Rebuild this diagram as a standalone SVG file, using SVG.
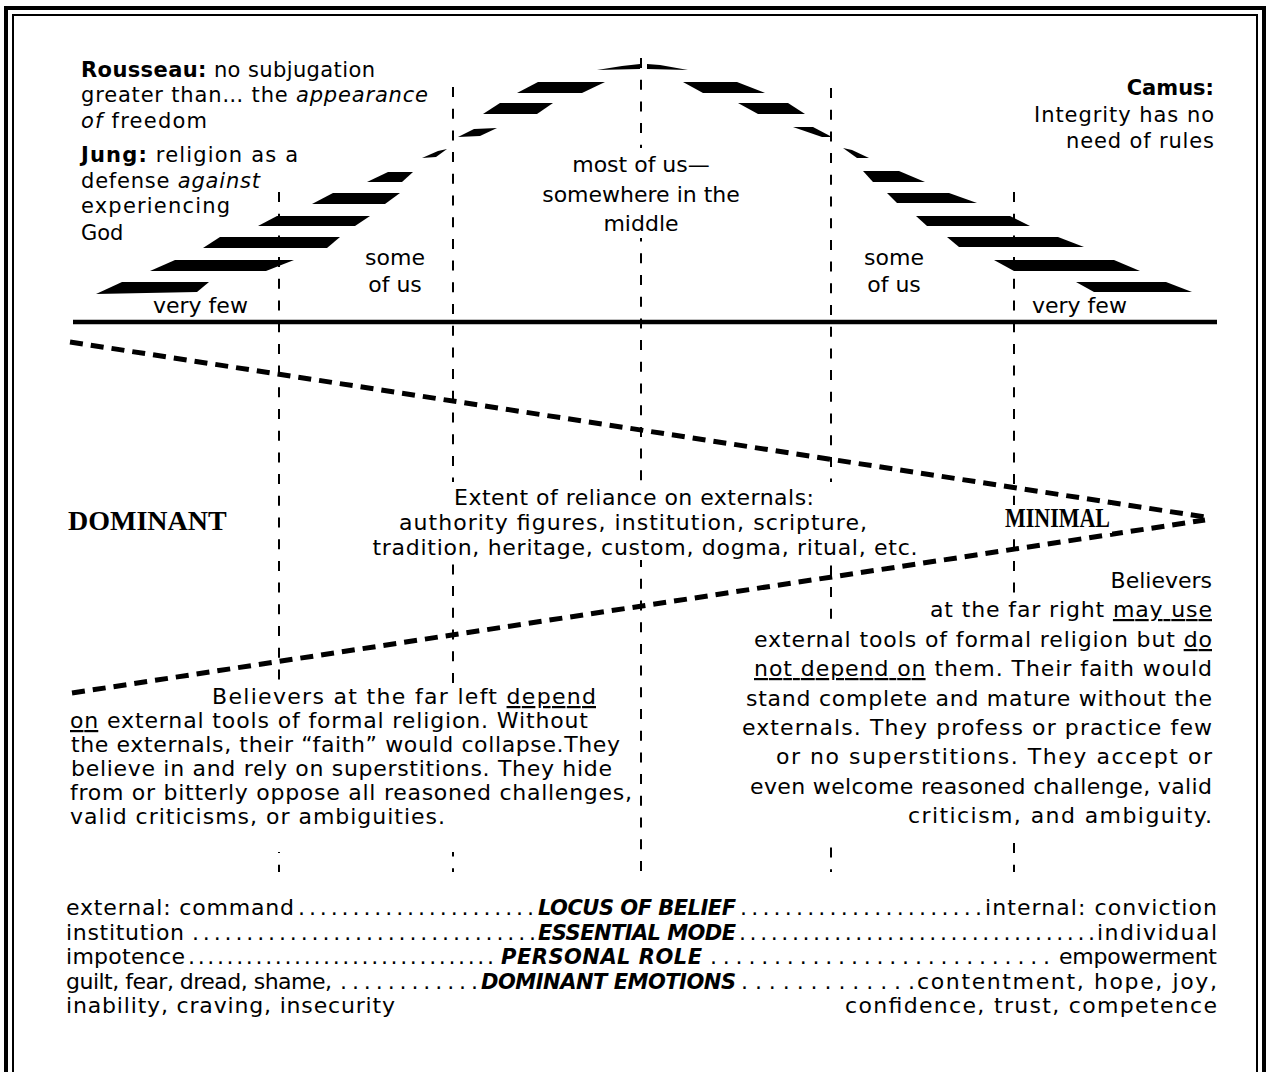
<svg xmlns="http://www.w3.org/2000/svg" width="1270" height="1072" viewBox="0 0 1270 1072">
<style>
.t{font-family:"DejaVu Sans",Verdana,sans-serif;font-size:21px;fill:#000}
.p{font-size:22px}
.b{font-weight:bold}
.i{font-style:italic}
.bi{font-weight:bold;font-style:italic;font-size:21px}
.u{text-decoration:underline}
.serif{font-family:"Liberation Serif","Times New Roman",serif;font-weight:bold;font-size:28px;fill:#000}
.vl{stroke:#000;stroke-width:2;stroke-dasharray:10 11.7;fill:none}
.dg{stroke:#000;stroke-width:5;stroke-dasharray:13 8;fill:none}
.bar{fill:#000}
.mask{fill:#fff}
</style>
<rect width="1270" height="1072" fill="#fff"/>
<g id="frame" fill="none" stroke="#000">
<path d="M6,1072 V8 H1264 V1072" stroke-width="4"/>
<path d="M13,1072 V15 H1257 V1072" stroke-width="2"/>
</g>
<g id="connectors">
<line class="vl" x1="641" y1="58" x2="641" y2="872"/>
<line class="vl" x1="453" y1="87" x2="453" y2="872"/>
<line class="vl" x1="831" y1="88" x2="831" y2="872"/>
<line class="vl" x1="279" y1="192" x2="279" y2="872"/>
<line class="vl" x1="1014" y1="192" x2="1014" y2="872"/>
<line x1="73" y1="322" x2="1217" y2="322" stroke="#000" stroke-width="4.5"/>
<line class="dg" x1="70" y1="342" x2="1205" y2="517"/>
<line class="dg" x1="72" y1="693" x2="1205" y2="520"/>
</g>
<g id="bell">
<polygon class="bar" points="96,294 122,282 209,282 197,292"/>
<polygon class="bar" points="150,271 175,260 294,260 266,271"/>
<polygon class="bar" points="203,248 220,237 340,237 327,248"/>
<polygon class="bar" points="258,226 277,216 370,216 355,226"/>
<polygon class="bar" points="312,204 333,193 400,193 385,204"/>
<polygon class="bar" points="367,182 388,172 413,172 402,182"/>
<polygon class="bar" points="422,158 438,151 447,149 436,157"/>
<polygon class="bar" points="458,137 474,129 497,128 480,136"/>
<polygon class="bar" points="483,114 500,103 553,103 537,114"/>
<polygon class="bar" points="517,93 538,82 605,82 582,93"/>
<polygon class="bar" points="597,70 622,66 640,64 640,69"/>
<polygon class="bar" points="647,64 660,65 688,70 647,69"/>
<polygon class="bar" points="683,82 737,82 765,93 703,93"/>
<polygon class="bar" points="738,103 788,103 805,114 758,114"/>
<polygon class="bar" points="793,127 813,127 832,137 822,137"/>
<polygon class="bar" points="843,148 852,150 869,158 857,158"/>
<polygon class="bar" points="863,171 899,171 925,182 873,182"/>
<polygon class="bar" points="887,193 949,193 977,203 897,203"/>
<polygon class="bar" points="916,216 1010,216 1030,226 927,226"/>
<polygon class="bar" points="947,237 1058,237 1084,247 959,247"/>
<polygon class="bar" points="994,260 1114,260 1140,271 1014,271"/>
<polygon class="bar" points="1076,282 1166,282 1192,292 1094,292"/>
</g>
<g id="masks">
<rect class="mask" x="530" y="148" width="222" height="90"/>
<rect class="mask" x="365" y="482" width="560" height="78"/>
<rect class="mask" x="1000" y="505" width="112" height="28"/>
<rect class="mask" x="150" y="684" width="484" height="168"/>
<rect class="mask" x="920" y="598" width="300" height="40"/>
<rect class="mask" x="740" y="626" width="480" height="214"/>
</g>
<g id="quote-left" class="t">
<text x="81" y="77" textLength="294" lengthAdjust="spacing"><tspan class="b">Rousseau:</tspan> no subjugation</text>
<text x="81" y="102" textLength="347" lengthAdjust="spacing">greater than… the <tspan class="i">appearance</tspan></text>
<text x="81" y="128" textLength="126" lengthAdjust="spacing"><tspan class="i">of</tspan> freedom</text>
<text x="81" y="162" textLength="217" lengthAdjust="spacing"><tspan class="b">Jung:</tspan> religion as a</text>
<text x="81" y="188" textLength="179" lengthAdjust="spacing">defense <tspan class="i">against</tspan></text>
<text x="81" y="213" textLength="149" lengthAdjust="spacing">experiencing</text>
<text x="81" y="240">God</text>
</g>
<g id="quote-right" class="t" text-anchor="end">
<text x="1214" y="95" class="b">Camus:</text>
<text x="1214" y="122" textLength="180" lengthAdjust="spacing">Integrity has no</text>
<text x="1214" y="148" textLength="148" lengthAdjust="spacing">need of rules</text>
</g>
<g id="label-middle" class="t p" text-anchor="middle">
<text x="641" y="172">most of us—</text>
<text x="641" y="202">somewhere in the</text>
<text x="641" y="231">middle</text>
</g>
<g id="label-some-left" class="t p" text-anchor="middle">
<text x="395" y="265">some</text>
<text x="395" y="292">of us</text>
</g>
<g id="label-some-right" class="t p" text-anchor="middle">
<text x="894" y="265">some</text>
<text x="894" y="292">of us</text>
</g>
<g id="label-few-left" class="t p"><text x="153" y="313">very few</text></g>
<g id="label-few-right" class="t p"><text x="1032" y="313">very few</text></g>
<g id="label-dominant"><text class="serif" x="68" y="530">DOMINANT</text></g>
<g id="label-minimal"><text class="serif" x="1005" y="527" font-size="25" textLength="105" lengthAdjust="spacingAndGlyphs">MINIMAL</text></g>
<g id="reliance" class="t p" text-anchor="middle">
<text x="634" y="505" textLength="360" lengthAdjust="spacing">Extent of reliance on externals:</text>
<text x="633" y="530" textLength="468" lengthAdjust="spacing">authority figures, institution, scripture,</text>
<text x="645" y="555" textLength="545" lengthAdjust="spacing">tradition, heritage, custom, dogma, ritual, etc.</text>
</g>
<g id="para-left" class="t p">
<text x="212" y="704" textLength="384" lengthAdjust="spacing">Believers at the far left <tspan class="u">depend</tspan></text>
<text x="70" y="728" textLength="518" lengthAdjust="spacing"><tspan class="u">on</tspan> external tools of formal religion. Without</text>
<text x="71" y="752" textLength="549" lengthAdjust="spacing">the externals, their “faith” would collapse.They</text>
<text x="71" y="776" textLength="541" lengthAdjust="spacing">believe in and rely on superstitions. They hide</text>
<text x="70" y="800" textLength="562" lengthAdjust="spacing">from or bitterly oppose all reasoned challenges,</text>
<text x="70" y="824" textLength="375" lengthAdjust="spacing">valid criticisms, or ambiguities.</text>
</g>
<g id="para-right" class="t p" text-anchor="end">
<text x="1212" y="588">Believers</text>
<text x="1212" y="617" textLength="282" lengthAdjust="spacing">at the far right <tspan class="u">may use</tspan></text>
<text x="1212" y="647" textLength="458" lengthAdjust="spacing">external tools of formal religion but <tspan class="u">do</tspan></text>
<text x="1212" y="676" textLength="458" lengthAdjust="spacing"><tspan class="u">not depend on</tspan> them. Their faith would</text>
<text x="1212" y="706" textLength="466" lengthAdjust="spacing">stand complete and mature without the</text>
<text x="1212" y="735" textLength="470" lengthAdjust="spacing">externals. They profess or practice few</text>
<text x="1212" y="764" textLength="436" lengthAdjust="spacing">or no  superstitions. They accept or</text>
<text x="1212" y="794" textLength="462" lengthAdjust="spacing">even welcome reasoned challenge, valid</text>
<text x="1212" y="823" textLength="304" lengthAdjust="spacing">criticism, and ambiguity.</text>
</g>
<g id="table" class="t p">
<text x="66" y="915" textLength="228" lengthAdjust="spacing">external: command</text>
<text x="298" y="915" textLength="236" lengthAdjust="spacing">......................</text>
<text x="538" y="915" class="bi" textLength="198" lengthAdjust="spacing">LOCUS OF BELIEF</text>
<text x="740" y="915" textLength="242" lengthAdjust="spacing">......................</text>
<text x="1217" y="915" text-anchor="end" textLength="232" lengthAdjust="spacing">internal: conviction</text>

<text x="66" y="940" textLength="118" lengthAdjust="spacing">institution</text>
<text x="192" y="940" textLength="344" lengthAdjust="spacing">................................</text>
<text x="538" y="940" class="bi" textLength="198" lengthAdjust="spacing">ESSENTIAL MODE</text>
<text x="739" y="940" textLength="356" lengthAdjust="spacing">..................................</text>
<text x="1217" y="940" text-anchor="end" textLength="120" lengthAdjust="spacing">individual</text>

<text x="66" y="964" textLength="119" lengthAdjust="spacing">impotence</text>
<text x="188" y="964" textLength="306" lengthAdjust="spacing">................................</text>
<text x="501" y="964" class="bi" textLength="201" lengthAdjust="spacing">PERSONAL ROLE</text>
<text x="710" y="964" textLength="340" lengthAdjust="spacing">...........................</text>
<text x="1217" y="964" text-anchor="end" textLength="158" lengthAdjust="spacing">empowerment</text>

<text x="66" y="989" textLength="266" lengthAdjust="spacing">guilt, fear, dread, shame,</text>
<text x="340" y="989" textLength="138" lengthAdjust="spacing">............</text>
<text x="481" y="989" class="bi" textLength="255" lengthAdjust="spacing">DOMINANT EMOTIONS</text>
<text x="741" y="989" textLength="174" lengthAdjust="spacing">.............</text>
<text x="1217" y="989" text-anchor="end" textLength="300" lengthAdjust="spacing">contentment, hope, joy,</text>

<text x="66" y="1013" textLength="329" lengthAdjust="spacing">inability, craving, insecurity</text>
<text x="1217" y="1013" text-anchor="end" textLength="372" lengthAdjust="spacing">confidence, trust, competence</text>
</g>
</svg>
